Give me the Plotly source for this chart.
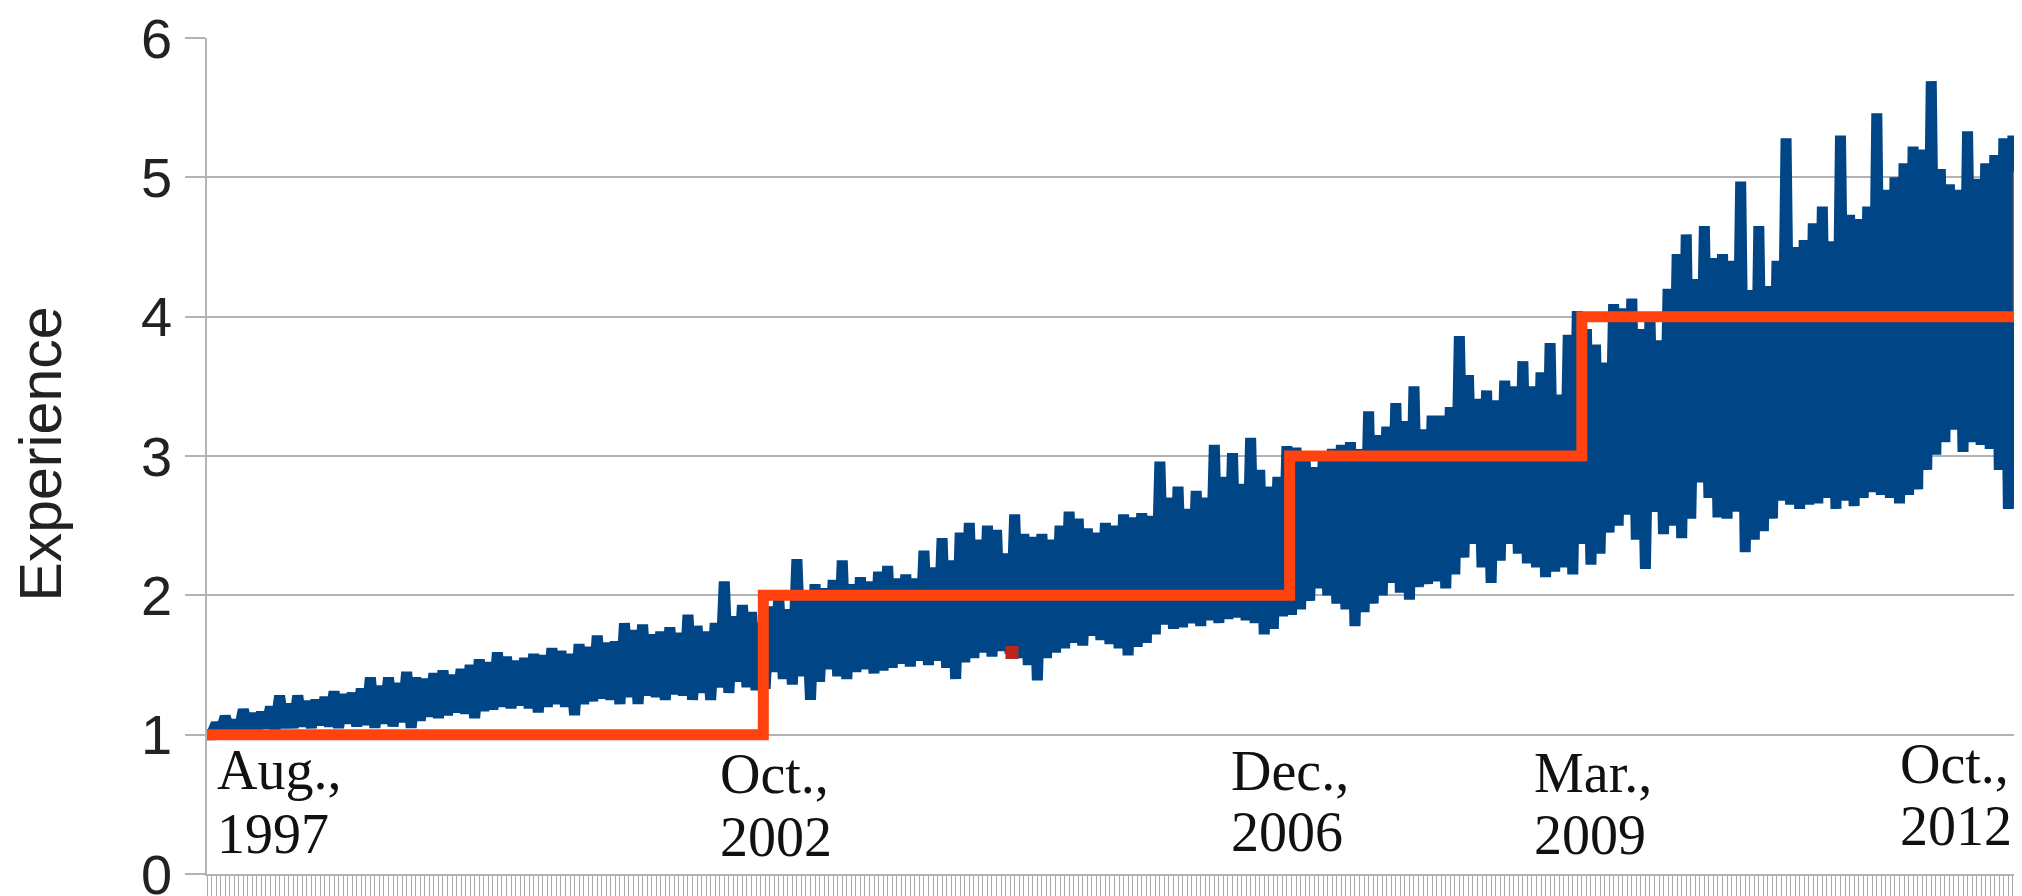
import plotly.graph_objects as go

# ---- data ----
# blue series: for every release index k, a high reading followed by a low reading
upper = [
    1.00, 1.08, 1.13, 1.10, 1.18, 1.15, 1.16, 1.20, 1.28, 1.22,
    1.28, 1.24, 1.25, 1.27, 1.31, 1.29, 1.30, 1.33, 1.41, 1.35,
    1.41, 1.37, 1.45, 1.41, 1.40, 1.44, 1.46, 1.43, 1.47, 1.50,
    1.54, 1.52, 1.59, 1.56, 1.53, 1.55, 1.58, 1.57, 1.62, 1.60,
    1.58, 1.65, 1.63, 1.71, 1.66, 1.67, 1.80, 1.75, 1.79, 1.72,
    1.74, 1.77, 1.73, 1.86, 1.78, 1.74, 1.80, 2.10, 1.85, 1.93,
    1.88, 1.80, 1.92, 1.98, 1.90, 2.26, 2.02, 2.08, 2.05, 2.11,
    2.25, 2.08, 2.13, 2.10, 2.17, 2.21, 2.12, 2.15, 2.12, 2.32,
    2.20, 2.41, 2.25, 2.45, 2.52, 2.40, 2.50, 2.47, 2.30, 2.58,
    2.44, 2.42, 2.44, 2.40, 2.50, 2.60, 2.55, 2.48, 2.45, 2.52,
    2.50, 2.58, 2.56, 2.59, 2.57, 2.96, 2.70, 2.78, 2.62, 2.75,
    2.70, 3.08, 2.85, 3.02, 2.80, 3.13, 2.90, 2.78, 2.85, 3.07,
    3.06, 3.00, 2.92, 2.98, 3.05, 3.08, 3.10, 3.05, 3.32, 3.15,
    3.21, 3.38, 3.25, 3.50, 3.19, 3.29, 3.29, 3.35, 3.86, 3.58,
    3.41, 3.47, 3.40, 3.54, 3.50, 3.68, 3.50, 3.60, 3.81, 3.44,
    3.87, 4.04, 3.91, 3.80, 3.67, 4.09, 4.06, 4.13, 3.91, 4.00,
    3.83, 4.20, 4.45, 4.59, 4.27, 4.65, 4.42, 4.45, 4.40, 4.97,
    4.19, 4.65, 4.22, 4.40, 5.28, 4.50, 4.55, 4.67, 4.79, 4.54,
    5.30, 4.73, 4.70, 4.79, 5.46, 4.91, 5.00, 5.10, 5.22, 5.20,
    5.69, 5.06, 4.95, 4.91, 5.33, 4.99, 5.10, 5.16, 5.28, 5.30,
    5.48,
]
lower = [
    1.00, 1.02, 1.03, 1.02, 1.04, 1.03, 1.05, 1.04, 1.05, 1.05,
    1.06, 1.05, 1.07, 1.06, 1.05, 1.08, 1.06, 1.07, 1.05, 1.08,
    1.06, 1.09, 1.05, 1.10, 1.13, 1.12, 1.14, 1.16, 1.15, 1.12,
    1.17, 1.18, 1.20, 1.19, 1.21, 1.19, 1.16, 1.20, 1.22, 1.20,
    1.14, 1.22, 1.24, 1.26, 1.25, 1.22, 1.27, 1.22, 1.28, 1.27,
    1.25, 1.29, 1.28, 1.25, 1.30, 1.25, 1.34, 1.30, 1.38, 1.34,
    1.32, 1.33, 1.45, 1.40, 1.36, 1.42, 1.25, 1.38, 1.47, 1.42,
    1.40, 1.45, 1.47, 1.44, 1.46, 1.48, 1.51, 1.49, 1.53, 1.50,
    1.53, 1.48, 1.40, 1.52, 1.55, 1.59, 1.56, 1.60, 1.58, 1.55,
    1.50, 1.39, 1.55, 1.59, 1.62, 1.66, 1.64, 1.71, 1.68, 1.65,
    1.62, 1.57, 1.63, 1.66, 1.72, 1.79, 1.76, 1.77, 1.80, 1.78,
    1.82, 1.80, 1.83, 1.84, 1.82, 1.80, 1.72, 1.76, 1.85, 1.86,
    1.90, 1.96, 2.05, 2.00, 1.94, 1.90, 1.78, 1.88, 1.94, 2.00,
    2.09, 2.02, 1.97, 2.06, 2.08, 2.10, 2.05, 2.15, 2.27, 2.37,
    2.20, 2.09, 2.25, 2.37, 2.30, 2.23, 2.20, 2.13, 2.17, 2.20,
    2.15, 2.37, 2.22, 2.30, 2.45, 2.50, 2.58, 2.40, 2.19, 2.60,
    2.44, 2.50, 2.41, 2.55, 2.81, 2.70, 2.56, 2.55, 2.60, 2.31,
    2.40, 2.46, 2.55, 2.68, 2.65, 2.62, 2.65, 2.66, 2.70, 2.62,
    2.68, 2.64, 2.70, 2.74, 2.72, 2.70, 2.66, 2.72, 2.76, 2.90,
    3.01, 3.10, 3.19, 3.03, 3.10, 3.08, 3.05, 2.90, 2.62, 3.00,
    3.11,
]

# orange step series (release index where the level changes, level)
step_x = [0, 61.3, 119.3, 151.5, 199.6, 202]
step_y = [1, 2, 3, 4, 5, 5]

# small red mark
mark_x = [88.7]
mark_y = [1.59]

# date labels
label_months = ["Aug.,", "Oct.,", "Dec.,", "Mar.,", "Oct.,"]
label_years = ["1997", "2002", "2006", "2009", "2012"]
label_x = [0.9, 56.3, 112.6, 146.0, 186.3]
label_month_y = [0.747, 0.718, 0.739, 0.725, 0.790]
label_year_y = [0.287, 0.262, 0.298, 0.280, 0.345]

y_ticks = [0, 1, 2, 3, 4, 5, 6]
y_title = "Experience"

# ---- build figure ----
blue_x, blue_y = [], []
for k, (u, l) in enumerate(zip(upper, lower)):
    blue_x += [k, k + 0.5]
    blue_y += [u, l]

fig = go.Figure()
fig.add_trace(go.Scatter(x=blue_x, y=blue_y, mode="lines",
                         line=dict(color="#004586", width=11),
                         hoverinfo="skip", showlegend=False))
fig.add_trace(go.Scatter(x=step_x, y=step_y, mode="lines",
                         line=dict(color="#ff420e", width=11, shape="hv"),
                         hoverinfo="skip", showlegend=False))
fig.add_trace(go.Scatter(x=mark_x, y=mark_y, mode="markers",
                         marker=dict(symbol="square", size=13, color="#b8261c",
                                     line=dict(width=0)),
                         hoverinfo="skip", showlegend=False))

# the page body adds an 8px offset; the figure is sized to fill the window
FIG_W, FIG_H = 2014, 888
M_L, M_T, M_B = 199, 30, 22
plot_w = FIG_W - M_L

annotations = []
for m, yr, x, ym, yy in zip(label_months, label_years, label_x,
                            label_month_y, label_year_y):
    for txt, yv in ((m, ym), (yr, yy)):
        annotations.append(dict(
            text=txt, x=x, y=yv, xref="x", yref="y",
            xanchor="left", yanchor="middle", showarrow=False,
            font=dict(family="Liberation Serif", size=56, color="#111111")))

annotations.append(dict(
    text=y_title, xref="paper", yref="y", x=(33 - M_L) / plot_w, y=3.01,
    xanchor="center", yanchor="middle", textangle=-90, showarrow=False,
    font=dict(family="Liberation Sans", size=59, color="#222222")))

fig.update_layout(
    width=FIG_W, height=FIG_H,
    margin=dict(l=M_L, r=0, t=M_T, b=M_B, pad=0),
    paper_bgcolor="white", plot_bgcolor="white",
    showlegend=False,
    annotations=annotations,
    font=dict(family="Liberation Sans"),
    xaxis=dict(range=[0, 200], showgrid=False, zeroline=False,
               showline=True, linecolor="#b3b3b3", linewidth=1.5,
               ticks="outside", tickmode="linear", tick0=0, dtick=0.5,
               ticklen=30, tickwidth=1, tickcolor="#aaaaaa",
               showticklabels=False, automargin=False, fixedrange=True),
    yaxis=dict(range=[0, 6], tickmode="array", tickvals=y_ticks,
               ticktext=[str(t) for t in y_ticks],
               showgrid=True, gridcolor="#b3b3b3", gridwidth=1.5,
               zeroline=False, showline=True, linecolor="#b3b3b3",
               linewidth=1.5, ticks="outside", ticklen=20, tickwidth=1.5,
               tickcolor="#b3b3b3", ticklabelstandoff=2,
               ticklabeloverflow="allow",
               tickfont=dict(family="Liberation Sans", size=56, color="#222222"),
               automargin=False, fixedrange=True),
)

fig.write_html("out.html", config={"displayModeBar": False})
